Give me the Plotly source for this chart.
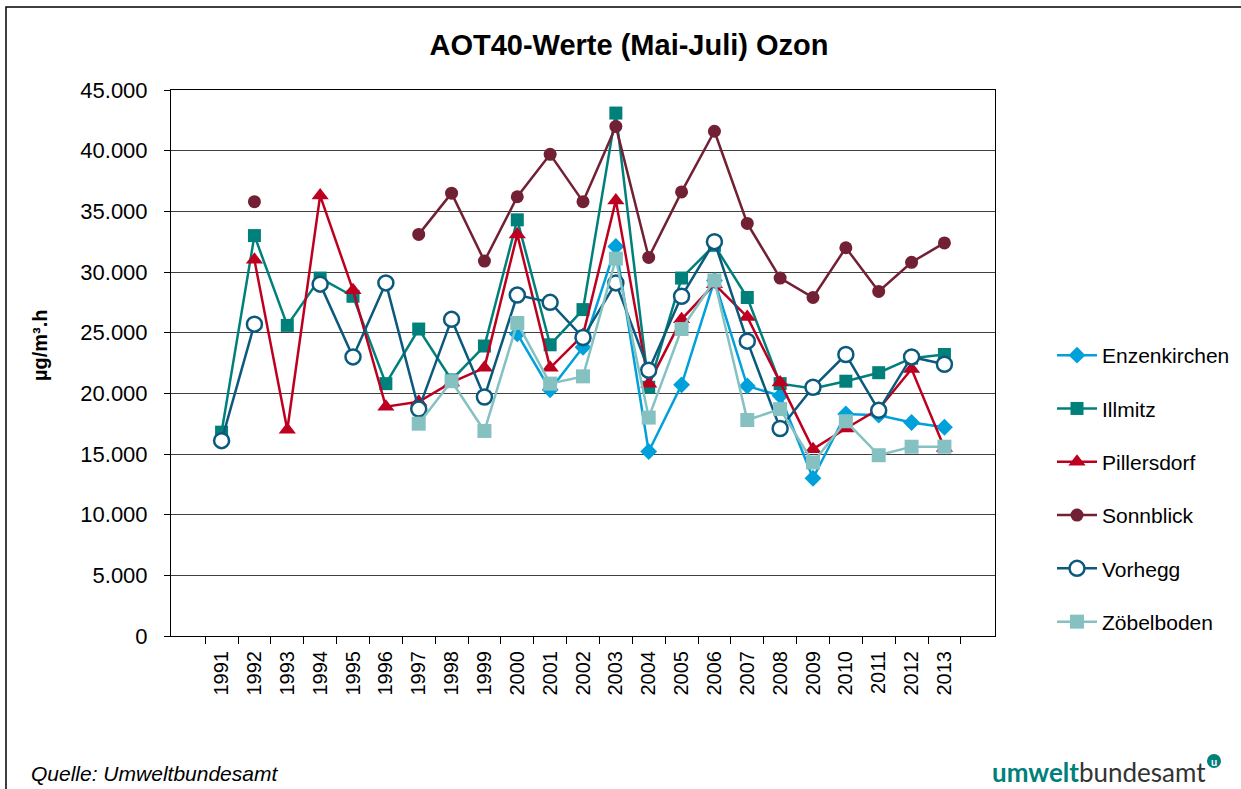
import plotly.graph_objects as go

years = [str(y) for y in range(1991, 2014)]

enzenkirchen = [None, None, None, None, None, None, None, None, None,
                24900, 20300, 23800, 32100, 15200, 20700, 29300, 20600,
                19800, 13000, 18300, 18200, 17600, 17200]
illmitz = [16800, 33000, 25600, 29500, 28000, 20800, 25300, 21100, 23900,
           34300, 24000, 26900, 43100, 20500, 29500, 32200, 27900, 20800,
           20400, 21000, 21700, 22900, 23200]
pillersdorf = [None, 31000, 17000, 36300, 28500, 18900, 19300, 20900, 22100,
               33100, 22100, 24800, 35900, 20800, 26100, 29000, 26300, 20900,
               15400, 17100, 18700, 22000, 15500]
sonnblick = [None, 35800, None, None, None, None, 33100, 36500, 30900,
             36200, 39700, 35800, 42000, 31200, 36600, 41600, 34000, 29500,
             27900, 32000, 28400, 30800, 32400]
vorhegg = [16100, 25700, None, 29000, 23000, 29100, 18700, 26100, 19700,
           28100, 27500, 24600, 29100, 21900, 28000, 32500, 24300, 17100,
           20500, 23200, 18600, 23000, 22400]
zoebelboden = [None, None, None, None, None, None, 17500, 21000, 16900,
               25800, 20800, 21400, 31100, 18000, 25300, 29300, 17800, 18700,
               14300, 17700, 14900, 15600, 15600]

series = [
    ("Enzenkirchen", enzenkirchen, "#00A0DB", dict(symbol="diamond", size=13, color="#00A0DB")),
    ("Illmitz", illmitz, "#00807B", dict(symbol="square", size=13, color="#00807B")),
    ("Pillersdorf", pillersdorf, "#BE0020", dict(symbol="triangle-up", size=15, color="#BE0020")),
    ("Sonnblick", sonnblick, "#722034", dict(symbol="circle", size=13, color="#722034")),
    ("Vorhegg", vorhegg, "#0B5A7E", dict(symbol="circle", size=15, color="white",
                                         line=dict(color="#0B5A7E", width=2.5))),
    ("Zöbelboden", zoebelboden, "#86C1C2", dict(symbol="square", size=14, color="#86C1C2")),
]

fig = go.Figure()
for name, vals, col, mk in series:
    fig.add_trace(go.Scatter(
        x=years, y=vals, name=name, mode="lines+markers",
        line=dict(color=col, width=2.5), marker=mk,
        connectgaps=False, legendgroup=name,
    ))

W, H = 1241, 789
L, R, T, B = 171, 246, 90, 153
pw, ph = W - L - R, H - T - B


def px(x):
    return (x - L) / pw


def py(y):
    return (H - B - y) / ph


fig.update_layout(
    width=W, height=H,
    margin=dict(l=L, r=R, t=T, b=B, autoexpand=False),
    paper_bgcolor="white", plot_bgcolor="white",
    separators=",.",
    font=dict(family="Liberation Sans, Arial, sans-serif", color="black"),
    title=dict(text="<b>AOT40-Werte (Mai-Juli) Ozon</b>", x=629 / W, xanchor="center",
               y=1 - 45 / H, yanchor="middle", font=dict(size=29, color="black")),
    showlegend=True,
    legend=dict(x=px(1052), xanchor="left", y=py(335), yanchor="top",
                font=dict(size=21), tracegroupgap=23, traceorder="grouped",
                bgcolor="rgba(0,0,0,0)", itemwidth=40),
    xaxis=dict(type="category", tickson="boundaries", ticks="outside", ticklen=7,
               tickcolor="black", showgrid=False, showline=True, linecolor="black",
               linewidth=1, mirror=True, tickangle=-90, tickfont=dict(size=20),
               ticklabelstandoff=6),
    yaxis=dict(range=[0, 45000], dtick=5000, tickformat=",d", ticks="outside",
               ticklen=6, tickcolor="black", showgrid=True, gridcolor="#404040",
               gridwidth=1, showline=True, linecolor="black", linewidth=1,
               mirror=True, tickfont=dict(size=22), zeroline=False,
               ticklabelstandoff=12),
    annotations=[
        dict(text="<b>µg/m³.h</b>", x=px(40), y=py(345), xref="paper", yref="paper",
             xanchor="center", yanchor="middle",
             textangle=-90, showarrow=False, font=dict(size=20)),
        dict(text="<i>Quelle: Umweltbundesamt</i>", x=px(29), y=py(773),
             xref="paper", yref="paper", xanchor="left", yanchor="middle",
             showarrow=False, font=dict(size=21)),
        dict(text="<span style='color:#00807B'><b>umwelt</b></span><span style='color:#333333'>bundesamt</span>",
             x=px(1208), y=py(772), xref="paper", yref="paper", xanchor="right",
             yanchor="middle", showarrow=False,
             font=dict(size=26, family="Lato, Noto Sans, sans-serif")),
        dict(text="<b>u</b>", x=px(1214), y=py(761), xref="paper", yref="paper",
             xanchor="center", yanchor="middle", showarrow=False,
             font=dict(size=11, color="white", family="Lato, sans-serif")),
    ],
    shapes=[
        dict(type="rect", xref="paper", yref="paper", x0=px(6), y0=py(800),
             x1=px(1250), y1=py(7), line=dict(color="black", width=1.5),
             fillcolor="rgba(0,0,0,0)", layer="below"),
        dict(type="circle", xref="paper", yref="paper", x0=px(1207), x1=px(1221),
             y0=py(768), y1=py(754), fillcolor="#00807B", line=dict(width=0)),
    ],
)

fig.write_html("out.html", config={"displayModeBar": False},
               post_script="document.body.style.margin='0px';document.body.style.overflow='hidden';")
